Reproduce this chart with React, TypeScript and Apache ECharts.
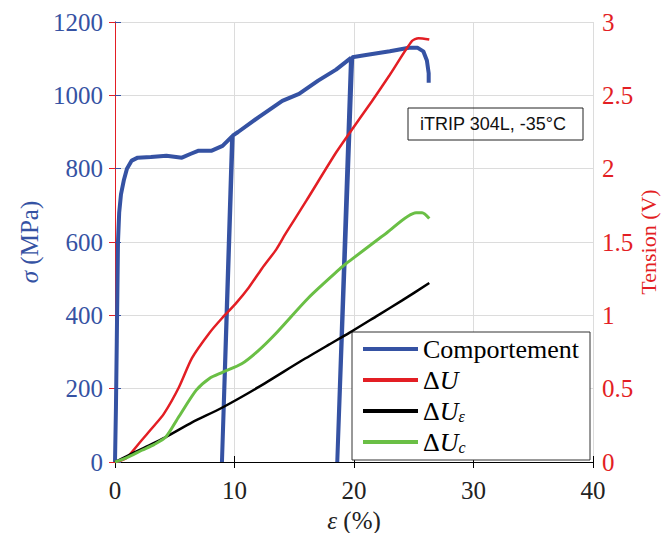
import React, { useEffect, useRef } from 'react';
import * as echarts from 'echarts';

// Comportement (σ in MPa vs ε in %)
const comportStrain = [0, 0.08, 0.15, 0.25, 0.35, 0.5, 0.75, 1.0, 1.4, 1.9, 3.0, 4.3, 5.6, 6.3, 7.0, 8.1, 9.0, 9.8, 8.95, 9.85, 10.3, 12.0, 14.0, 15.4, 17.0, 18.5, 19.75, 18.6, 19.85, 21.0, 23.0, 24.6, 25.3, 25.8, 26.1, 26.25, 26.25];
const comportStress = [0, 150, 330, 600, 680, 730, 770, 800, 822, 830, 832, 835, 830, 840, 849, 849, 862, 888, 0, 890, 900, 940, 985, 1004, 1040, 1070, 1102, 0, 1104, 1110, 1120, 1130, 1130, 1120, 1095, 1060, 1034];

// ΔU (V)
const uStrain = [0, 0.5, 1.0, 2.25, 3.2, 4.1, 5.35, 6.45, 7.9, 8.95, 10.1, 11.2, 12.3, 13.5, 14.3, 16.0, 18.5, 19.6, 21.5, 23.0, 24.85, 25.4, 26.3];
const uTension = [0, 0.01, 0.03, 0.15, 0.24, 0.33, 0.51, 0.71, 0.88, 0.98, 1.08, 1.19, 1.32, 1.45, 1.56, 1.78, 2.11, 2.24, 2.46, 2.64, 2.87, 2.89, 2.88];

// ΔUε (V)
const ueStrain = [0, 1.0, 2.25, 4.25, 6.45, 8.95, 12.0, 15.6, 17.9, 19.6, 22.0, 24.0, 26.3];
const ueTension = [0, 0.04, 0.09, 0.17, 0.27, 0.37, 0.51, 0.69, 0.80, 0.88, 1.0, 1.1, 1.22];

// ΔUc (V)
const ucStrain = [0, 1.0, 2.25, 3.3, 4.25, 5.35, 6.8, 7.9, 8.95, 10.6, 12.0, 13.5, 16.2, 19.0, 19.3, 22.7, 25.2, 25.7, 26.3];
const ucTension = [0, 0.03, 0.08, 0.12, 0.17, 0.31, 0.49, 0.57, 0.61, 0.67, 0.76, 0.88, 1.12, 1.33, 1.35, 1.56, 1.70, 1.70, 1.66];

const seriesNames = ['Comportement', 'ΔU', 'ΔUε', 'ΔUc'];
const annotationText = 'iTRIP 304L, -35°C';

const BLUE = '#3552a3';
const RED = '#e31e24';
const GREEN = '#6abf45';
const BLACK = '#000000';
const SERIF = 'Liberation Serif';
const SANS = 'Liberation Sans';

const zip = (a: number[], b: number[]) => a.map((v, i) => [v, b[i]]);

export default function App() {
  const ref = useRef<HTMLDivElement>(null);
  useEffect(() => {
    if (!ref.current) return;
    const chart = echarts.init(ref.current, null, { renderer: 'svg', width: 665, height: 533 });
    const legendRich = {
      n: { fontFamily: SERIF, fontSize: 26, color: '#000' },
      i: { fontFamily: SERIF, fontSize: 26, fontStyle: 'italic', color: '#000' },
      s: { fontFamily: SERIF, fontSize: 16, fontStyle: 'italic', color: '#000', verticalAlign: 'bottom', padding: [10, 0, 0, 0] },
    };
    chart.setOption({
      animation: false,
      backgroundColor: '#fff',
      textStyle: { fontFamily: SERIF },
      grid: { left: 115, right: 72, top: 22, bottom: 71, containLabel: false, outerBoundsMode: 'none' },
      xAxis: [
        {
          type: 'value', min: 0, max: 40, interval: 10, position: 'bottom',
          name: '{i|ε} (%)', nameLocation: 'middle', nameGap: 46,
          nameTextStyle: { fontFamily: SERIF, fontSize: 25, color: '#222',
            rich: { i: { fontFamily: SERIF, fontSize: 25, fontStyle: 'italic', color: '#222' } } },
          axisLine: { show: true, lineStyle: { color: '#000', width: 1 } },
          axisTick: { show: true, inside: true, length: 6, lineStyle: { color: '#000' } },
          axisLabel: { fontFamily: SERIF, fontSize: 25, color: '#222', margin: 16, formatter: (v: number) => String(v) },
          splitLine: { show: true, lineStyle: { color: '#dcdcdc', width: 1 } },
        },
        {
          type: 'value', min: 0, max: 40, interval: 10, position: 'top',
          axisLine: { show: true, lineStyle: { color: '#000', width: 1 } },
          axisTick: { show: true, inside: true, length: 6, lineStyle: { color: '#000' } },
          axisLabel: { show: false },
          splitLine: { show: false },
        },
      ],
      yAxis: [
        {
          type: 'value', min: 0, max: 1200, interval: 200, position: 'left',
          name: '{i|σ} (MPa)', nameLocation: 'middle', nameGap: 72,
          nameTextStyle: { fontFamily: SERIF, fontSize: 25, color: BLUE,
            rich: { i: { fontFamily: SERIF, fontSize: 25, fontStyle: 'italic', color: BLUE } } },
          axisLine: { show: true, lineStyle: { color: BLUE, width: 1 } },
          axisTick: { show: true, inside: true, length: 6, lineStyle: { color: BLUE } },
          axisLabel: { fontFamily: SERIF, fontSize: 25, color: BLUE, margin: 12, formatter: (v: number) => String(v) },
          splitLine: { show: true, lineStyle: { color: '#dcdcdc', width: 1 } },
        },
        {
          type: 'value', min: 0, max: 3, interval: 0.5, position: 'right',
          name: 'Tension (V)', nameLocation: 'middle', nameGap: 44, nameRotate: 90, nameMoveOverlap: false,
          nameTextStyle: { fontFamily: SERIF, fontSize: 22, color: RED },
          axisLine: { show: true, lineStyle: { color: RED, width: 1 } },
          axisTick: { show: true, inside: true, length: 6, lineStyle: { color: RED } },
          axisLabel: { fontFamily: SERIF, fontSize: 25, color: RED, margin: 9, formatter: (v: number) => String(v) },
          splitLine: { show: false },
        },
      ],
      legend: {
        orient: 'vertical', left: 352, top: 330, padding: [6, 8, 6, 11],
        itemWidth: 55, itemHeight: 4, itemGap: 5, icon: 'rect',
        data: seriesNames,
        textStyle: { fontFamily: SERIF, fontSize: 26, color: '#000', rich: legendRich },
        formatter: (name: string) => {
          if (name === 'ΔU') return '{n|Δ}{i|U}';
          if (name === 'ΔUε') return '{n|Δ}{i|U}{s|ε}';
          if (name === 'ΔUc') return '{n|Δ}{i|U}{s|c}';
          return '{n|' + name + '}';
        },
      },
      graphic: [
        { type: 'rect', z: 3, shape: { x: 352, y: 332, width: 238, height: 128 },
          style: { fill: '#fff', stroke: '#333', lineWidth: 1 } },
        { type: 'rect', z: 3, shape: { x: 408, y: 108, width: 175, height: 32 },
          style: { fill: 'rgba(255,255,255,0)', stroke: '#222', lineWidth: 1 } },
        { type: 'text', z: 4, x: 493, y: 124,
          style: { text: annotationText, fontFamily: SANS, fontSize: 18, fill: '#111', align: 'center', verticalAlign: 'middle' } },
      ],
      series: [
        { name: seriesNames[0], type: 'line', xAxisIndex: 0, yAxisIndex: 0, showSymbol: false, smooth: false,
          data: zip(comportStrain, comportStress), lineStyle: { color: BLUE, width: 4 }, itemStyle: { color: BLUE } },
        { name: seriesNames[1], type: 'line', xAxisIndex: 0, yAxisIndex: 1, showSymbol: false, smooth: 0.25,
          data: zip(uStrain, uTension), lineStyle: { color: RED, width: 2.5 }, itemStyle: { color: RED } },
        { name: seriesNames[2], type: 'line', xAxisIndex: 0, yAxisIndex: 1, showSymbol: false, smooth: 0.25,
          data: zip(ueStrain, ueTension), lineStyle: { color: BLACK, width: 2.5 }, itemStyle: { color: BLACK } },
        { name: seriesNames[3], type: 'line', xAxisIndex: 0, yAxisIndex: 1, showSymbol: false, smooth: 0.25,
          data: zip(ucStrain, ucTension), lineStyle: { color: GREEN, width: 3 }, itemStyle: { color: GREEN } },
      ],
    });
    return () => chart.dispose();
  }, []);
  return <div ref={ref} style={{ position: 'fixed', left: 0, top: 0, width: 665, height: 533 }} />;
}
